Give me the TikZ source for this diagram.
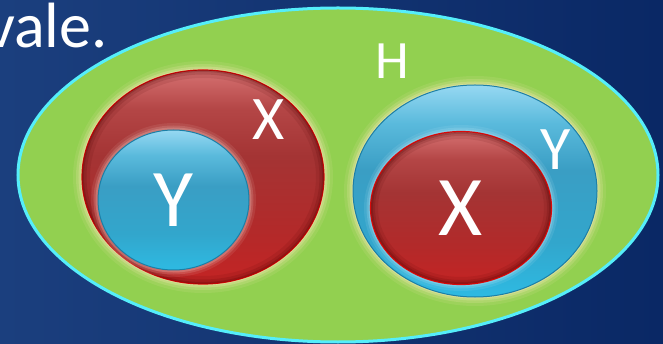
\documentclass[tikz,border=0pt]{standalone}
\usepackage{fontspec}
\setmainfont{Carlito}
\usetikzlibrary{shapes.geometric}
\definecolor{bgL}{HTML}{1B3F7E}
\definecolor{bgR}{HTML}{0A2865}
\definecolor{setgreen}{HTML}{92D050}
\definecolor{rimcyan}{HTML}{55EEFA}
\definecolor{redRim}{HTML}{DD0A0A}
\definecolor{blueRim}{HTML}{1C7FA6}
\definecolor{glowY}{HTML}{F2E6B0}
\definecolor{glowR}{HTML}{E8B8B0}
\definecolor{glowB}{HTML}{B8E4F4}
\pgfdeclareverticalshading{redsh}{100bp}{color(0bp)=(rgb,255:red,196;green,36;blue,36); color(25bp)=(rgb,255:red,196;green,36;blue,36); color(38bp)=(rgb,255:red,178;green,42;blue,42); color(55bp)=(rgb,255:red,164;green,52;blue,52); color(66bp)=(rgb,255:red,180;green,70;blue,70); color(75bp)=(rgb,255:red,214;green,114;blue,114); color(100bp)=(rgb,255:red,214;green,114;blue,114)}
\pgfdeclareverticalshading{bluesh}{100bp}{color(0bp)=(rgb,255:red,46;green,186;blue,226); color(25bp)=(rgb,255:red,46;green,186;blue,226); color(38bp)=(rgb,255:red,50;green,166;blue,204); color(55bp)=(rgb,255:red,58;green,158;blue,196); color(66bp)=(rgb,255:red,90;green,186;blue,220); color(75bp)=(rgb,255:red,150;green,216;blue,242); color(100bp)=(rgb,255:red,150;green,216;blue,242)}
\tikzset{
  setshape/.style={ellipse, inner sep=0pt, outer sep=0pt},
  redset/.style={setshape, shading=redsh, draw=redRim, line width=1.2pt},
  blueset/.style={setshape, shading=bluesh, draw=blueRim, line width=1pt},
  lbl/.style={text=white, inner sep=0pt}
}
\begin{document}
\begin{tikzpicture}[x=1pt,y=-1pt]
\useasboundingbox (0,0) rectangle (663,344);
\clip (0,0) rectangle (663,344);
\fill[left color=bgL, right color=bgR] (0,0) rectangle (663,344);
% text at top left
\node[lbl, anchor=base west, font=\fontsize{64}{64}\selectfont] (vale) at (-14,48) {vale.};
% big set H
\node[setshape, minimum width=640pt, minimum height=334pt, fill=setgreen, draw=rimcyan, line width=3pt] (Hset) at (338,175) {};
% glows
\foreach \w/\o in {18/0.12, 12/0.2, 7/0.3, 3/0.45} {
  \draw[glowY, line width=\w pt, opacity=\o] (203,177) ellipse [x radius=121, y radius=107];
  \draw[glowY, line width=\w pt, opacity=\o] (475,191) ellipse [x radius=122, y radius=106];
}
% left: X containing Y
\node[redset, minimum width=242pt, minimum height=214pt] (X1) at (203,177) {};
\begin{scope}
  \clip (203,177) ellipse [x radius=121, y radius=107];
  \foreach \w/\o in {16/0.1, 9/0.15, 4/0.2} {
    \draw[black!70!red, line width=\w pt, opacity=\o] (203,177) ellipse [x radius=121, y radius=107];
  }
\end{scope}
\foreach \w/\o in {14/0.12, 9/0.2, 5/0.3} {
  \draw[glowR, line width=\w pt, opacity=\o] (173.5,200) ellipse [x radius=75.5, y radius=70];
}
\node[blueset, minimum width=151pt, minimum height=140pt] (Y1) at (173.5,200) {};
% right: Y containing X
\node[blueset, minimum width=244pt, minimum height=212pt] (Y2) at (475,191) {};
\foreach \w/\o in {14/0.12, 9/0.2, 5/0.3} {
  \draw[glowB, line width=\w pt, opacity=\o] (461,208) ellipse [x radius=90, y radius=76];
}
\node[redset, minimum width=181pt, minimum height=153pt] (X2) at (461,208) {};
\begin{scope}
  \clip (461,208) ellipse [x radius=90, y radius=76];
  \foreach \w/\o in {14/0.1, 8/0.15, 4/0.2} {
    \draw[black!70!red, line width=\w pt, opacity=\o] (461,208) ellipse [x radius=90, y radius=76];
  }
\end{scope}
% labels
\node[lbl, font=\fontsize{62}{62}\selectfont] (lX1) at (269,120) {X};
\node[lbl, font=\fontsize{82}{82}\selectfont] (lY1) at (173,200) {Y};
\node[lbl, font=\fontsize{54}{54}\selectfont] (lH) at (392,61) {H};
\node[lbl, font=\fontsize{62}{62}\selectfont] (lY2) at (556,150) {Y};
\node[lbl, font=\fontsize{85}{85}\selectfont] (lX2) at (461,208) {X};
\end{tikzpicture}
\end{document}
